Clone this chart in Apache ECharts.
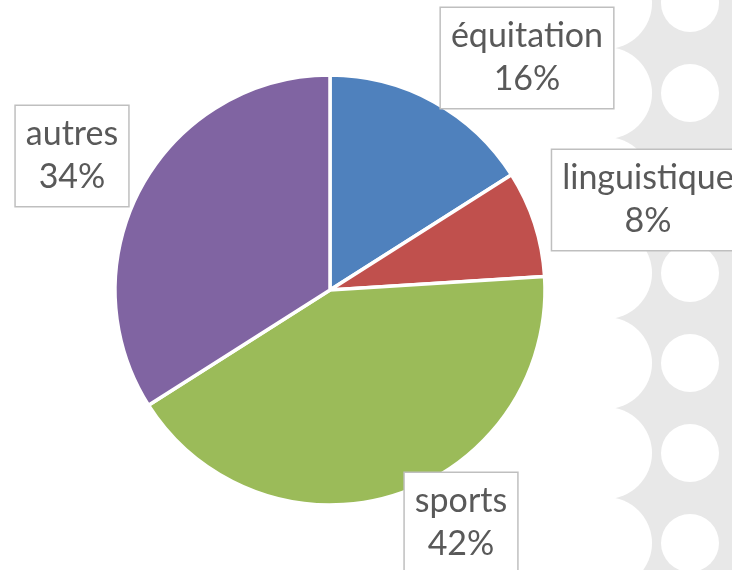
<!DOCTYPE html>
<html>
<head>
<meta charset="utf-8">
<script src="https://cdn.jsdelivr.net/npm/echarts@6/dist/echarts.min.js"></script>
<style>
  html, body { margin: 0; padding: 0; background: #fff; }
  #chart { width: 732px; height: 570px; }
</style>
</head>
<body>
<div id="chart"></div>
<script>
  // données
  var categories = ['équitation', 'linguistique', 'sports', 'autres'];
  var values = [16, 8, 42, 34];
  var colors = ['#4f81bd', '#c0504d', '#9bbb59', '#8064a2'];

  // position des étiquettes (centre des cadres)
  var labelPos = [[527, 58], [648, 200], [461, 523], [72, 156]];

  // motif de fond à droite
  var deco = [{
    type: 'rect',
    shape: { x: 608, y: 0, width: 124, height: 570 },
    style: { fill: '#e8e8e8' },
    z: 0
  }];
  for (var k = 0; k < 8; k++) {
    var cy = 3 + 90 * k;
    deco.push({ type: 'circle', shape: { cx: 606, cy: cy, r: 46 }, style: { fill: '#fff' }, z: 0 });
    deco.push({ type: 'circle', shape: { cx: 690, cy: cy, r: 29 }, style: { fill: '#fff' }, z: 0 });
  }

  var myChart = echarts.init(document.getElementById('chart'));
  myChart.setOption({
    animation: false,
    color: colors,
    graphic: deco,
    series: [{
      type: 'pie',
      center: [330, 290],
      radius: 215,
      startAngle: 90,
      clockwise: true,
      data: categories.map(function (name, i) {
        return { name: name, value: values[i] };
      }),
      itemStyle: {
        borderColor: '#fff',
        borderWidth: 3.5
      },
      label: {
        show: true,
        position: 'inside',
        formatter: '{b}\n{d}%',
        fontFamily: 'Lato',
        fontSize: 34,
        lineHeight: 43,
        color: '#595959',
        align: 'center',
        overflow: 'none',
        backgroundColor: '#fff',
        borderColor: '#bfbfbf',
        borderWidth: 1.5,
        padding: [7, 10]
      },
      labelLine: { show: false },
      labelLayout: function (params) {
        var p = labelPos[params.dataIndex];
        return { x: p[0], y: p[1], align: 'center', verticalAlign: 'middle' };
      },
      emphasis: { disabled: true }
    }]
  });
</script>
</body>
</html>
